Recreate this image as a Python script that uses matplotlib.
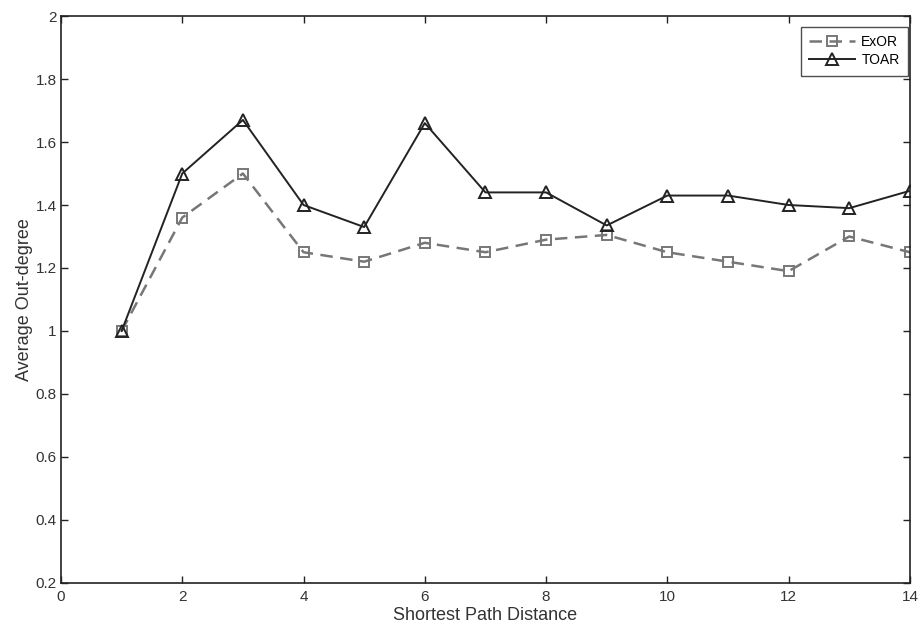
import matplotlib
matplotlib.use('Agg')
import matplotlib.pyplot as plt

distance = [1, 2, 3, 4, 5, 6, 7, 8, 9, 10, 11, 12, 13, 14]
exor = [1.0, 1.36, 1.50, 1.25, 1.22, 1.28, 1.25, 1.29, 1.305, 1.25, 1.22, 1.19, 1.30, 1.25]
toar = [1.0, 1.50, 1.67, 1.40, 1.33, 1.66, 1.44, 1.44, 1.335, 1.43, 1.43, 1.40, 1.39, 1.445]

plt.rcParams['font.family'] = ['Liberation Sans', 'DejaVu Sans']
plt.rcParams['font.size'] = 11

fig = plt.figure(figsize=(9.2, 6.28), dpi=100)
ax = fig.add_axes([0.0663, 0.0717, 0.9227, 0.9028])

ax.plot(distance, exor, color='#777777', linestyle=(0, (5, 3)), linewidth=1.8,
        marker='s', markersize=7, markerfacecolor='none', markeredgecolor='#777777',
        markeredgewidth=1.4, label='ExOR')
ax.plot(distance, toar, color='#222222', linestyle='-', linewidth=1.4,
        marker='^', markersize=8, markerfacecolor='none', markeredgecolor='#222222',
        markeredgewidth=1.4, label='TOAR')

ax.set_xlim(0, 14)
ax.set_ylim(0.2, 2)
ax.set_xticks(range(0, 15, 2))
ax.set_yticks([0.2, 0.4, 0.6, 0.8, 1, 1.2, 1.4, 1.6, 1.8, 2])
ax.set_yticklabels(['0.2', '0.4', '0.6', '0.8', '1', '1.2', '1.4', '1.6', '1.8', '2'])
ax.tick_params(direction='in', top=True, right=True, length=5, width=1,
               colors='#222222', labelcolor='#333333')
ax.tick_params(axis='x', pad=5)
ax.tick_params(axis='y', pad=3)
for s in ax.spines.values():
    s.set_linewidth(1.2)
    s.set_color('#222222')

ax.set_xlabel('Shortest Path Distance', fontsize=13, color='#333333', labelpad=2)
ax.set_ylabel('Average Out-degree', fontsize=13, color='#333333', labelpad=2)

leg = ax.legend(loc='upper right', bbox_to_anchor=(0.9976, 0.981), borderaxespad=0,
                fontsize=10, frameon=True, fancybox=False, edgecolor='#222222',
                handlelength=3.3, handletextpad=0.45, labelspacing=0.3, borderpad=0.6)
leg.get_frame().set_linewidth(1.0)

fig.savefig('out.png', dpi=100)
